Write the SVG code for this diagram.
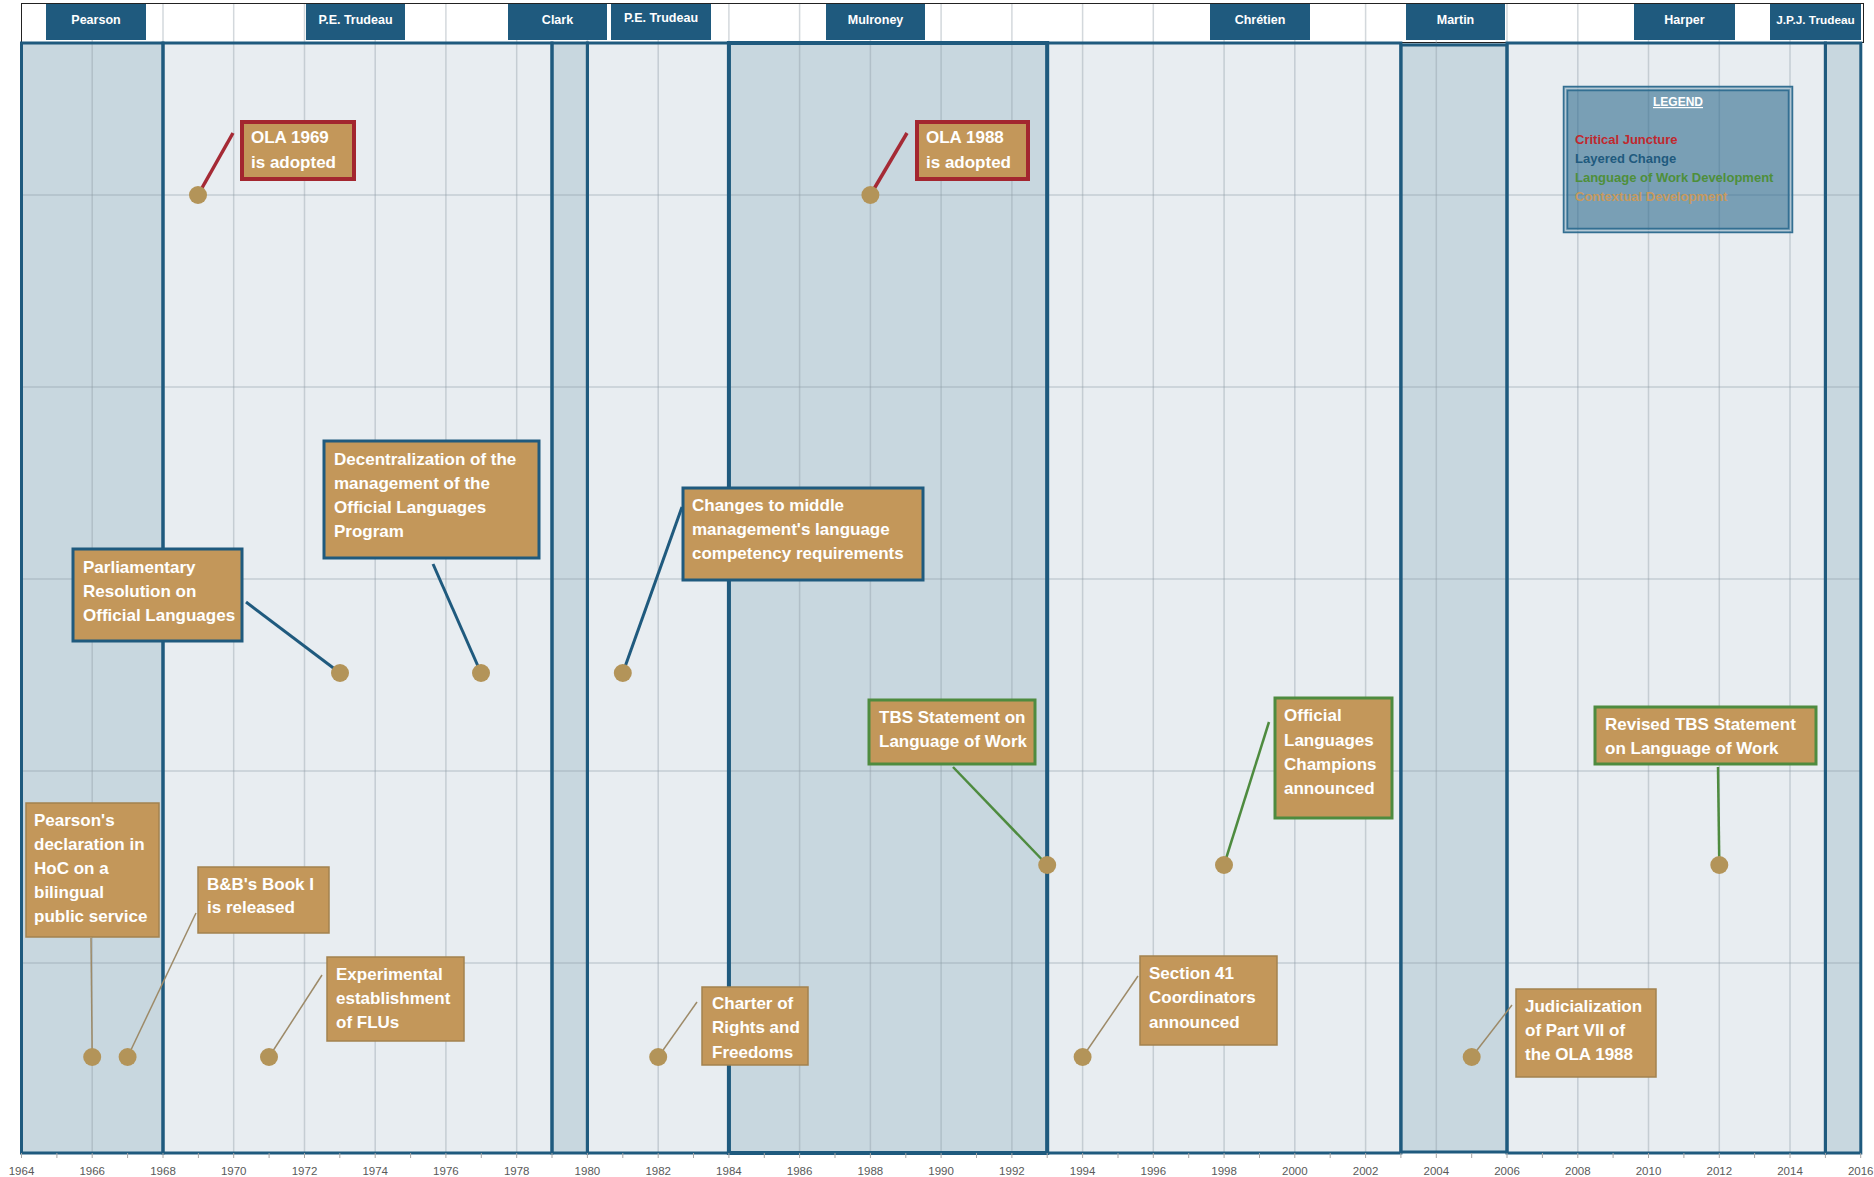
<svg xmlns="http://www.w3.org/2000/svg" width="1874" height="1177" viewBox="0 0 1874 1177">
<defs>
<style>
.hdrbg{fill:#ffffff;stroke:#222222;stroke-width:1}
.rd{fill:#C8D7DF}
.rl{fill:#E8EDF1}
.rb{fill:none;stroke:#1F5A7E;stroke-width:3}
.grid{stroke:#8C98A2;stroke-opacity:0.38;stroke-width:1.5}
.hbox{fill:#1F5A7E}
.htxt{font-family:"Liberation Sans",Arial,sans-serif;font-weight:bold;font-size:12.5px;fill:#ffffff;text-anchor:middle}
.box{fill:#C3975A}
.cj{stroke:#A3262F;stroke-width:4}
.lc{stroke:#1F5A7E;stroke-width:3}
.lw{stroke:#4E8B3F;stroke-width:3}
.cd{stroke:#A3824F;stroke-width:1.5}
.btxt{font-family:"Liberation Sans",Arial,sans-serif;font-weight:bold;font-size:17px;fill:#ffffff}
.dot{fill:#B39459}
.c-cj{stroke:#A52A35;stroke-width:3.5;fill:none}
.c-lc{stroke:#1F5A7E;stroke-width:3;fill:none}
.c-lw{stroke:#4E8B3F;stroke-width:2.5;fill:none}
.c-cd{stroke:#9D8A68;stroke-width:1.5;fill:none}
.tick{stroke:#A6A6A6;stroke-width:1}
.atxt{font-family:"Liberation Sans",Arial,sans-serif;font-size:11.5px;fill:#595959;text-anchor:middle}
.ltxt{font-family:"Liberation Sans",Arial,sans-serif;font-weight:bold;font-size:13px}
</style>
</defs>
<rect x="0" y="0" width="1874" height="1177" fill="#ffffff"/>
<rect class="hdrbg" x="21.5" y="3.5" width="1842" height="39"/>
<g id="regions">
<rect class="rd" x="21.5" y="43" width="141.5" height="1110"/>
<rect class="rl" x="163" y="43" width="389" height="1110"/>
<rect class="rd" x="552" y="43" width="35.4" height="1110"/>
<rect class="rl" x="587.4" y="43" width="141.5" height="1110"/>
<rect class="rd" x="728.9" y="43" width="318.3" height="1110"/>
<rect class="rl" x="1047.2" y="43" width="353.7" height="1110"/>
<rect class="rd" x="1400.9" y="43" width="106.1" height="1110"/>
<rect class="rl" x="1507" y="43" width="318.4" height="1110"/>
<rect class="rd" x="1825.4" y="43" width="35.4" height="1110"/>
</g>
<g id="grid">
<line class="grid" x1="92.2" y1="4" x2="92.2" y2="1153"/>
<line class="grid" x1="163" y1="4" x2="163" y2="1153"/>
<line class="grid" x1="233.7" y1="4" x2="233.7" y2="1153"/>
<line class="grid" x1="304.5" y1="4" x2="304.5" y2="1153"/>
<line class="grid" x1="375.2" y1="4" x2="375.2" y2="1153"/>
<line class="grid" x1="445.9" y1="4" x2="445.9" y2="1153"/>
<line class="grid" x1="516.7" y1="4" x2="516.7" y2="1153"/>
<line class="grid" x1="587.4" y1="4" x2="587.4" y2="1153"/>
<line class="grid" x1="658.2" y1="4" x2="658.2" y2="1153"/>
<line class="grid" x1="728.9" y1="4" x2="728.9" y2="1153"/>
<line class="grid" x1="799.6" y1="4" x2="799.6" y2="1153"/>
<line class="grid" x1="870.4" y1="4" x2="870.4" y2="1153"/>
<line class="grid" x1="941.1" y1="4" x2="941.1" y2="1153"/>
<line class="grid" x1="1011.9" y1="4" x2="1011.9" y2="1153"/>
<line class="grid" x1="1082.6" y1="4" x2="1082.6" y2="1153"/>
<line class="grid" x1="1153.3" y1="4" x2="1153.3" y2="1153"/>
<line class="grid" x1="1224.1" y1="4" x2="1224.1" y2="1153"/>
<line class="grid" x1="1294.8" y1="4" x2="1294.8" y2="1153"/>
<line class="grid" x1="1365.6" y1="4" x2="1365.6" y2="1153"/>
<line class="grid" x1="1436.3" y1="4" x2="1436.3" y2="1153"/>
<line class="grid" x1="1507" y1="4" x2="1507" y2="1153"/>
<line class="grid" x1="1577.8" y1="4" x2="1577.8" y2="1153"/>
<line class="grid" x1="1648.5" y1="4" x2="1648.5" y2="1153"/>
<line class="grid" x1="1719.3" y1="4" x2="1719.3" y2="1153"/>
<line class="grid" x1="1790" y1="4" x2="1790" y2="1153"/>
<line class="grid" x1="21.5" y1="195" x2="1861" y2="195"/>
<line class="grid" x1="21.5" y1="387" x2="1861" y2="387"/>
<line class="grid" x1="21.5" y1="579" x2="1861" y2="579"/>
<line class="grid" x1="21.5" y1="771" x2="1861" y2="771"/>
<line class="grid" x1="21.5" y1="963" x2="1861" y2="963"/>
</g>
<g id="region-borders">
<rect class="rb" x="21.5" y="43" width="141.5" height="1110"/>
<rect class="rb" x="163" y="43" width="389" height="1110"/>
<rect class="rb" x="552" y="43" width="35.4" height="1110"/>
<rect class="rb" x="587.4" y="43" width="141.5" height="1110"/>
<rect class="rb" x="728.9" y="43" width="318.3" height="1110" style="stroke-width:4"/>
<rect class="rb" x="1047.2" y="43" width="353.7" height="1110"/>
<rect class="rb" x="1400.9" y="45" width="106.1" height="1107"/>
<rect class="rb" x="1507" y="43" width="318.4" height="1110"/>
<rect class="rb" x="1825.4" y="43" width="35.4" height="1110"/>
</g>
<g id="header">
<rect class="hbox" x="46" y="4" width="100" height="36"/><text class="htxt" x="96" y="24">Pearson</text>
<rect class="hbox" x="306" y="4" width="99" height="36"/><text class="htxt" x="355.5" y="24">P.E. Trudeau</text>
<rect class="hbox" x="508" y="4" width="99" height="36"/><text class="htxt" x="557.5" y="24">Clark</text>
<rect class="hbox" x="611" y="4" width="100" height="36"/><text class="htxt" x="661" y="22">P.E. Trudeau</text>
<rect class="hbox" x="826" y="4" width="99" height="36"/><text class="htxt" x="875.5" y="24">Mulroney</text>
<rect class="hbox" x="1210" y="4" width="100" height="36"/><text class="htxt" x="1260" y="24">Chrétien</text>
<rect class="hbox" x="1406" y="4" width="99" height="36"/><text class="htxt" x="1455.5" y="24">Martin</text>
<rect class="hbox" x="1634" y="4" width="101" height="36"/><text class="htxt" x="1684.5" y="24">Harper</text>
<rect class="hbox" x="1770" y="4" width="91" height="36"/><text class="htxt" x="1815.5" y="24" style="font-size:11.8px">J.P.J. Trudeau</text>
</g>
<g id="legend">
<rect x="1563.5" y="86.5" width="229" height="146" fill="#2E6A8E" fill-opacity="0.6" stroke="#336F92" stroke-width="1.5"/>
<rect x="1565.5" y="88.5" width="225" height="142" fill="none" stroke="#DDE6EC" stroke-opacity="0.6" stroke-width="1.2"/>
<rect x="1567.5" y="90.5" width="221" height="138" fill="none" stroke="#336F92" stroke-width="1.5"/>
<text class="ltxt" x="1678" y="106" text-anchor="middle" fill="#ffffff" text-decoration="underline" style="font-size:12px">LEGEND</text>
<text class="ltxt" x="1575" y="144" fill="#C0282E">Critical Juncture</text>
<text class="ltxt" x="1575" y="163" fill="#1F5A7E">Layered Change</text>
<text class="ltxt" x="1575" y="182" fill="#4E8F3A">Language of Work Development</text>
<text class="ltxt" x="1575" y="201" fill="#C79A5E">Contextual Development</text>
</g>
<g id="connectors">
<line class="c-cj" x1="198" y1="195" x2="233" y2="133"/>
<line class="c-cj" x1="870.4" y1="195" x2="907" y2="133"/>
<line class="c-lc" x1="340" y1="673" x2="246" y2="602"/>
<line class="c-lc" x1="481" y1="673" x2="433" y2="564"/>
<line class="c-lc" x1="622.8" y1="673" x2="682" y2="507"/>
<line class="c-lw" x1="1047.2" y1="865" x2="953" y2="767"/>
<line class="c-lw" x1="1224" y1="865" x2="1269" y2="722"/>
<line class="c-lw" x1="1719.3" y1="865" x2="1718" y2="767"/>
<line class="c-cd" x1="92.2" y1="1057" x2="91" y2="938"/>
<line class="c-cd" x1="127.6" y1="1057" x2="196" y2="913"/>
<line class="c-cd" x1="269" y1="1057" x2="322" y2="975"/>
<line class="c-cd" x1="658.2" y1="1057" x2="697" y2="1002"/>
<line class="c-cd" x1="1082.6" y1="1057" x2="1138" y2="976"/>
<line class="c-cd" x1="1471.7" y1="1057" x2="1512" y2="1005"/>
</g>
<g id="ola-1969">
<circle class="dot" cx="198" cy="195" r="9"/>
<rect class="box cj" x="242" y="122" width="112" height="57"/>
<text class="btxt" x="251" y="143">OLA 1969</text>
<text class="btxt" x="251" y="168">is adopted</text>
</g>
<g id="ola-1988">
<circle class="dot" cx="870.4" cy="195" r="9"/>
<rect class="box cj" x="917" y="122" width="111" height="57"/>
<text class="btxt" x="926" y="143">OLA 1988</text>
<text class="btxt" x="926" y="168">is adopted</text>
</g>
<g id="parliamentary-resolution">
<circle class="dot" cx="340" cy="673" r="9"/>
<rect class="box lc" x="73" y="549" width="169" height="92"/>
<text class="btxt" x="83" y="573">Parliamentary</text>
<text class="btxt" x="83" y="597">Resolution on</text>
<text class="btxt" x="83" y="621">Official Languages</text>
</g>
<g id="decentralization">
<circle class="dot" cx="481" cy="673" r="9"/>
<rect class="box lc" x="324" y="441" width="215" height="117"/>
<text class="btxt" x="334" y="465">Decentralization of the</text>
<text class="btxt" x="334" y="489">management of the</text>
<text class="btxt" x="334" y="513">Official Languages</text>
<text class="btxt" x="334" y="537">Program</text>
</g>
<g id="middle-management">
<circle class="dot" cx="622.8" cy="673" r="9"/>
<rect class="box lc" x="683" y="488" width="240" height="92"/>
<text class="btxt" x="692" y="511">Changes to middle</text>
<text class="btxt" x="692" y="535">management's language</text>
<text class="btxt" x="692" y="559">competency requirements</text>
</g>
<g id="tbs-statement">
<circle class="dot" cx="1047.2" cy="865" r="9"/>
<rect class="box lw" x="869" y="700" width="166" height="64"/>
<text class="btxt" x="879" y="723">TBS Statement on</text>
<text class="btxt" x="879" y="747">Language of Work</text>
</g>
<g id="ol-champions">
<circle class="dot" cx="1224" cy="865" r="9"/>
<rect class="box lw" x="1275" y="698" width="117" height="120"/>
<text class="btxt" x="1284" y="721">Official</text>
<text class="btxt" x="1284" y="746">Languages</text>
<text class="btxt" x="1284" y="770">Champions</text>
<text class="btxt" x="1284" y="794">announced</text>
</g>
<g id="revised-tbs">
<circle class="dot" cx="1719.3" cy="865" r="9"/>
<rect class="box lw" x="1595" y="707" width="221" height="57"/>
<text class="btxt" x="1605" y="730">Revised TBS Statement</text>
<text class="btxt" x="1605" y="754">on Language of Work</text>
</g>
<g id="pearson-declaration">
<circle class="dot" cx="92.2" cy="1057" r="9"/>
<rect class="box cd" x="26" y="803" width="133" height="134"/>
<text class="btxt" x="34" y="826">Pearson's</text>
<text class="btxt" x="34" y="850">declaration in</text>
<text class="btxt" x="34" y="874">HoC on a</text>
<text class="btxt" x="34" y="898">bilingual</text>
<text class="btxt" x="34" y="922">public service</text>
</g>
<g id="bb-book">
<circle class="dot" cx="127.6" cy="1057" r="9"/>
<rect class="box cd" x="198" y="867" width="131" height="66"/>
<text class="btxt" x="207" y="890">B&amp;B's Book I</text>
<text class="btxt" x="207" y="913">is released</text>
</g>
<g id="experimental-flus">
<circle class="dot" cx="269" cy="1057" r="9"/>
<rect class="box cd" x="327" y="957" width="137" height="84"/>
<text class="btxt" x="336" y="980">Experimental</text>
<text class="btxt" x="336" y="1004">establishment</text>
<text class="btxt" x="336" y="1028">of FLUs</text>
</g>
<g id="charter">
<circle class="dot" cx="658.2" cy="1057" r="9"/>
<rect class="box cd" x="702" y="987" width="106" height="78"/>
<text class="btxt" x="712" y="1009">Charter of</text>
<text class="btxt" x="712" y="1033">Rights and</text>
<text class="btxt" x="712" y="1058">Freedoms</text>
</g>
<g id="section-41">
<circle class="dot" cx="1082.6" cy="1057" r="9"/>
<rect class="box cd" x="1140" y="956" width="137" height="89"/>
<text class="btxt" x="1149" y="979">Section 41</text>
<text class="btxt" x="1149" y="1003">Coordinators</text>
<text class="btxt" x="1149" y="1028">announced</text>
</g>
<g id="judicialization">
<circle class="dot" cx="1471.7" cy="1057" r="9"/>
<rect class="box cd" x="1516" y="989" width="140" height="88"/>
<text class="btxt" x="1525" y="1012">Judicialization</text>
<text class="btxt" x="1525" y="1036">of Part VII of</text>
<text class="btxt" x="1525" y="1060">the OLA 1988</text>
</g>
<g id="axis">
<line class="tick" x1="21.5" y1="1153" x2="21.5" y2="1158"/>
<line class="tick" x1="56.9" y1="1153" x2="56.9" y2="1158"/>
<line class="tick" x1="92.2" y1="1153" x2="92.2" y2="1158"/>
<line class="tick" x1="127.6" y1="1153" x2="127.6" y2="1158"/>
<line class="tick" x1="163" y1="1153" x2="163" y2="1158"/>
<line class="tick" x1="198.4" y1="1153" x2="198.4" y2="1158"/>
<line class="tick" x1="233.7" y1="1153" x2="233.7" y2="1158"/>
<line class="tick" x1="269.1" y1="1153" x2="269.1" y2="1158"/>
<line class="tick" x1="304.5" y1="1153" x2="304.5" y2="1158"/>
<line class="tick" x1="339.8" y1="1153" x2="339.8" y2="1158"/>
<line class="tick" x1="375.2" y1="1153" x2="375.2" y2="1158"/>
<line class="tick" x1="410.6" y1="1153" x2="410.6" y2="1158"/>
<line class="tick" x1="445.9" y1="1153" x2="445.9" y2="1158"/>
<line class="tick" x1="481.3" y1="1153" x2="481.3" y2="1158"/>
<line class="tick" x1="516.7" y1="1153" x2="516.7" y2="1158"/>
<line class="tick" x1="552" y1="1153" x2="552" y2="1158"/>
<line class="tick" x1="587.4" y1="1153" x2="587.4" y2="1158"/>
<line class="tick" x1="622.8" y1="1153" x2="622.8" y2="1158"/>
<line class="tick" x1="658.2" y1="1153" x2="658.2" y2="1158"/>
<line class="tick" x1="693.5" y1="1153" x2="693.5" y2="1158"/>
<line class="tick" x1="728.9" y1="1153" x2="728.9" y2="1158"/>
<line class="tick" x1="764.3" y1="1153" x2="764.3" y2="1158"/>
<line class="tick" x1="799.6" y1="1153" x2="799.6" y2="1158"/>
<line class="tick" x1="835" y1="1153" x2="835" y2="1158"/>
<line class="tick" x1="870.4" y1="1153" x2="870.4" y2="1158"/>
<line class="tick" x1="905.8" y1="1153" x2="905.8" y2="1158"/>
<line class="tick" x1="941.1" y1="1153" x2="941.1" y2="1158"/>
<line class="tick" x1="976.5" y1="1153" x2="976.5" y2="1158"/>
<line class="tick" x1="1011.9" y1="1153" x2="1011.9" y2="1158"/>
<line class="tick" x1="1047.2" y1="1153" x2="1047.2" y2="1158"/>
<line class="tick" x1="1082.6" y1="1153" x2="1082.6" y2="1158"/>
<line class="tick" x1="1118" y1="1153" x2="1118" y2="1158"/>
<line class="tick" x1="1153.3" y1="1153" x2="1153.3" y2="1158"/>
<line class="tick" x1="1188.7" y1="1153" x2="1188.7" y2="1158"/>
<line class="tick" x1="1224.1" y1="1153" x2="1224.1" y2="1158"/>
<line class="tick" x1="1259.5" y1="1153" x2="1259.5" y2="1158"/>
<line class="tick" x1="1294.8" y1="1153" x2="1294.8" y2="1158"/>
<line class="tick" x1="1330.2" y1="1153" x2="1330.2" y2="1158"/>
<line class="tick" x1="1365.6" y1="1153" x2="1365.6" y2="1158"/>
<line class="tick" x1="1400.9" y1="1153" x2="1400.9" y2="1158"/>
<line class="tick" x1="1436.3" y1="1153" x2="1436.3" y2="1158"/>
<line class="tick" x1="1471.7" y1="1153" x2="1471.7" y2="1158"/>
<line class="tick" x1="1507" y1="1153" x2="1507" y2="1158"/>
<line class="tick" x1="1542.4" y1="1153" x2="1542.4" y2="1158"/>
<line class="tick" x1="1577.8" y1="1153" x2="1577.8" y2="1158"/>
<line class="tick" x1="1613.1" y1="1153" x2="1613.1" y2="1158"/>
<line class="tick" x1="1648.5" y1="1153" x2="1648.5" y2="1158"/>
<line class="tick" x1="1683.9" y1="1153" x2="1683.9" y2="1158"/>
<line class="tick" x1="1719.3" y1="1153" x2="1719.3" y2="1158"/>
<line class="tick" x1="1754.6" y1="1153" x2="1754.6" y2="1158"/>
<line class="tick" x1="1790" y1="1153" x2="1790" y2="1158"/>
<line class="tick" x1="1825.4" y1="1153" x2="1825.4" y2="1158"/>
<line class="tick" x1="1860.7" y1="1153" x2="1860.7" y2="1158"/>
<text class="atxt" x="21.5" y="1175">1964</text>
<text class="atxt" x="92.2" y="1175">1966</text>
<text class="atxt" x="163" y="1175">1968</text>
<text class="atxt" x="233.7" y="1175">1970</text>
<text class="atxt" x="304.5" y="1175">1972</text>
<text class="atxt" x="375.2" y="1175">1974</text>
<text class="atxt" x="445.9" y="1175">1976</text>
<text class="atxt" x="516.7" y="1175">1978</text>
<text class="atxt" x="587.4" y="1175">1980</text>
<text class="atxt" x="658.2" y="1175">1982</text>
<text class="atxt" x="728.9" y="1175">1984</text>
<text class="atxt" x="799.6" y="1175">1986</text>
<text class="atxt" x="870.4" y="1175">1988</text>
<text class="atxt" x="941.1" y="1175">1990</text>
<text class="atxt" x="1011.9" y="1175">1992</text>
<text class="atxt" x="1082.6" y="1175">1994</text>
<text class="atxt" x="1153.3" y="1175">1996</text>
<text class="atxt" x="1224.1" y="1175">1998</text>
<text class="atxt" x="1294.8" y="1175">2000</text>
<text class="atxt" x="1365.6" y="1175">2002</text>
<text class="atxt" x="1436.3" y="1175">2004</text>
<text class="atxt" x="1507" y="1175">2006</text>
<text class="atxt" x="1577.8" y="1175">2008</text>
<text class="atxt" x="1648.5" y="1175">2010</text>
<text class="atxt" x="1719.3" y="1175">2012</text>
<text class="atxt" x="1790" y="1175">2014</text>
<text class="atxt" x="1860.7" y="1175">2016</text>
</g>
</svg>
